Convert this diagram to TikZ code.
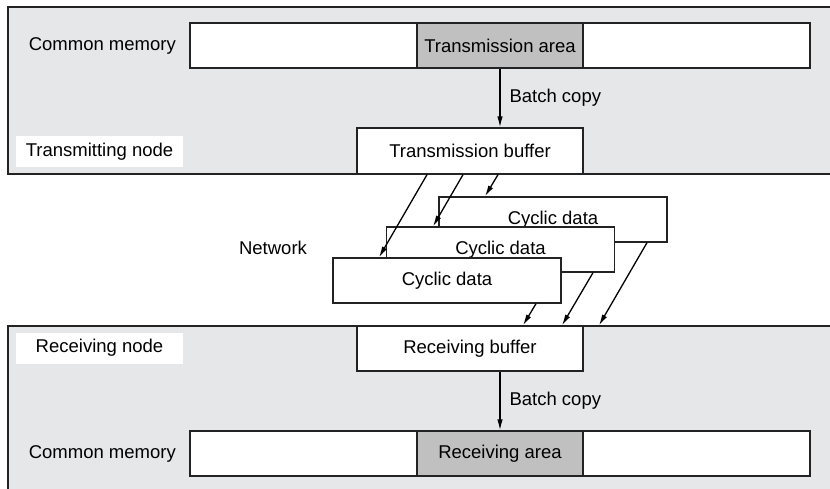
\documentclass[tikz,border=0pt]{standalone}
\usepackage{fontspec}
\setmainfont{Liberation Sans}
\usetikzlibrary{arrows.meta,calc}
\definecolor{panel}{RGB}{230,231,232}
\definecolor{area}{RGB}{192,192,193}
\definecolor{edge}{RGB}{35,35,35}
\begin{document}
\begin{tikzpicture}[x=1pt,y=-1pt,>={Latex[length=11pt,width=5.5pt]},
  every node/.style={font=\fontsize{18.5}{21}\selectfont},
  box/.style={draw=edge,line width=1.3pt,fill=white,inner sep=0pt},
  membar/.style={box,minimum width=620pt,minimum height=45pt},
  areabox/.style={box,fill=area,minimum width=166pt,minimum height=45pt},
  bufbox/.style={box,minimum width=226pt,minimum height=46pt},
  cycbox/.style={box,minimum width=228pt,minimum height=45pt},
  tag/.style={fill=white,minimum width=167pt,minimum height=31pt,inner sep=0pt},
  link/.style={->,line width=1.3pt,draw=black}]
  \useasboundingbox (0,0) rectangle (830,488);
  \fill[white] (0,0) rectangle (830,488);
  % the two node panels
  \draw[edge,line width=1.4pt,fill=panel] (845,7) -| (8,174) -- (845,174);
  \draw[edge,line width=1.4pt,fill=panel] (845,326) -| (8,500) -- (845,500);

  % transmitting side
  \node[membar] (tmem) at (500,45.5) {};
  \node[areabox] (tarea) at (tmem) {Transmission area};
  \node[left=10pt] (tmemlbl) at (tmem.west) {Common memory};
  \node[bufbox] (tbuf) at (470,151) {Transmission buffer};
  \node[tag] (tnode) at (99.5,151.5) {Transmitting node};
  \draw[link] (tarea.south) -- (tarea.south |- tbuf.north);
  \node[right=6pt] (tcopy) at ($(tarea.south)!0.5!(tarea.south |- tbuf.north)$) {Batch copy};

  % network
  \node (net) at (273,248) {Network};
  \node[cycbox] (cyc1) at (553,219.5) {Cyclic data};
  \node[cycbox] (cyc2) at (500.5,249.5) {Cyclic data};
  \node[cycbox] (cyc3) at (447,280.5) {Cyclic data};

  % receiving side
  \node[bufbox,minimum height=45pt] (rbuf) at (470,348.5) {Receiving buffer};
  \node[tag] (rnode) at (99.5,348) {Receiving node};
  \node[membar] (rmem) at (500,453.5) {};
  \node[areabox] (rarea) at (rmem) {Receiving area};
  \node[left=10pt] (rmemlbl) at (rmem.west) {Common memory};
  \draw[link] (rarea.north |- rbuf.south) -- (rarea.north);
  \node[right=6pt] (rcopy) at ($(rarea.north |- rbuf.south)!0.5!(rarea.north)$) {Batch copy};

  % cyclic transfers
  \draw[link] ($(tbuf.south)+(-43,0)$) -- ($(cyc3.north)+(-68,0)$);
  \draw[link] ($(tbuf.south)+(-7,0)$) -- ($(cyc2.north)+(-67.5,0)$);
  \draw[link] ($(tbuf.south)+(28,0)$) -- ($(cyc1.north)+(-68,0)$);
  \draw[link] ($(cyc3.south)+(89,0)$) -- ($(rbuf.north)+(53,0)$);
  \draw[link] ($(cyc2.south)+(92.5,0)$) -- ($(rbuf.north)+(92,0)$);
  \draw[link] ($(cyc1.south)+(94,0)$) -- ($(rbuf.north)+(129,0)$);
\end{tikzpicture}
\end{document}
